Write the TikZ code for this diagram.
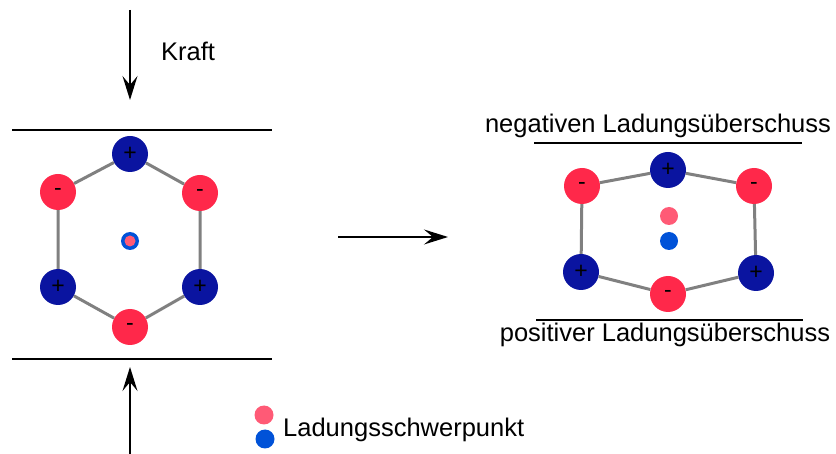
\documentclass[tikz,border=0pt]{standalone}
\usepackage{fontspec}
\setmainfont{Liberation Sans}
\usetikzlibrary{arrows.meta}
\definecolor{negred}{RGB}{255,40,74}
\definecolor{posblue}{RGB}{10,20,160}
\definecolor{cpink}{RGB}{255,90,118}
\definecolor{cblue}{RGB}{0,82,216}
\definecolor{bondgray}{RGB}{128,128,128}
\tikzset{
  atom/.style={circle,inner sep=0pt,minimum size=36pt,text=black,font=\fontsize{23}{23}\selectfont},
  negatom/.style={atom,fill=negred},
  posatom/.style={atom,fill=posblue},
  bond/.style={draw=bondgray,line width=3pt},
  plate/.style={draw=black,line width=1.4pt},
  force/.style={draw=black,line width=1.4pt,-{Stealth[length=24pt,width=15pt,inset=9pt]}},
  lbl/.style={inner sep=0pt,font=\fontsize{25.5}{30}\selectfont},
  cdot/.style={circle,inner sep=0pt,minimum size=#1},
}
\begin{document}
\begin{tikzpicture}[x=1pt,y=-1pt]
\useasboundingbox (0,0) rectangle (836,454);
% left molecule
\node[posatom] (lt) at (130,154) {+};
\node[negatom] (lul) at (58,192) {-};
\node[negatom] (lur) at (200,193) {-};
\node[posatom] (lll) at (58,287) {+};
\node[posatom] (llr) at (200,287) {+};
\node[negatom] (lb) at (130,327) {-};
\draw[bond] (lt) -- (lul) (lul) -- (lll) (lll) -- (lb) (lb) -- (llr) (llr) -- (lur) (lur) -- (lt);
\node[cdot=18pt,fill=cblue] (lcb) at (130,241) {};
\node[cdot=11pt,fill=cpink] (lcp) at (130,241) {};
% plates left
\coordinate (p1a) at (12,130); \coordinate (p1b) at (272,130);
\coordinate (p2a) at (12,359); \coordinate (p2b) at (272,359);
\draw[plate] (p1a) -- (p1b);
\draw[plate] (p2a) -- (p2b);
% force arrows
\coordinate (fa1) at (130,10); \coordinate (fa2) at (130,100);
\coordinate (fb1) at (130,454); \coordinate (fb2) at (130,367);
\draw[force] (fa1) -- (fa2);
\draw[force] (fb1) -- (fb2);
\node[lbl] (kraft) at (188,51) {Kraft};
% transition arrow
\coordinate (ta1) at (338,237); \coordinate (ta2) at (448,237);
\draw[force] (ta1) -- (ta2);
% right molecule
\node[posatom] (rt) at (668,170) {+};
\node[negatom] (rul) at (582,186) {-};
\node[negatom] (rur) at (754,186) {-};
\node[posatom] (rll) at (581,272) {+};
\node[posatom] (rlr) at (756,273) {+};
\node[negatom] (rb) at (668,294) {-};
\draw[bond] (rt) -- (rul) (rul) -- (rll) (rll) -- (rb) (rb) -- (rlr) (rlr) -- (rur) (rur) -- (rt);
\node[cdot=18pt,fill=cpink] (rcp) at (669,216) {};
\node[cdot=18pt,fill=cblue] (rcb) at (669,241) {};
% plates right
\coordinate (q1a) at (534,143); \coordinate (q1b) at (802,143);
\coordinate (q2a) at (536,320); \coordinate (q2b) at (803,320);
\draw[plate] (q1a) -- (q1b);
\draw[plate] (q2a) -- (q2b);
\node[lbl,anchor=base] (negtxt) at (658,133) {negativen Ladungsüberschuss};
\node[lbl,anchor=base] (postxt) at (665,342) {positiver Ladungsüberschuss};
% legend
\node[cdot=19pt,fill=cpink] (legp) at (264,415) {};
\node[cdot=19pt,fill=cblue] (legb) at (265,439) {};
\node[lbl,anchor=base west] (legtxt) at (283,436) {Ladungsschwerpunkt};
\end{tikzpicture}
\end{document}
